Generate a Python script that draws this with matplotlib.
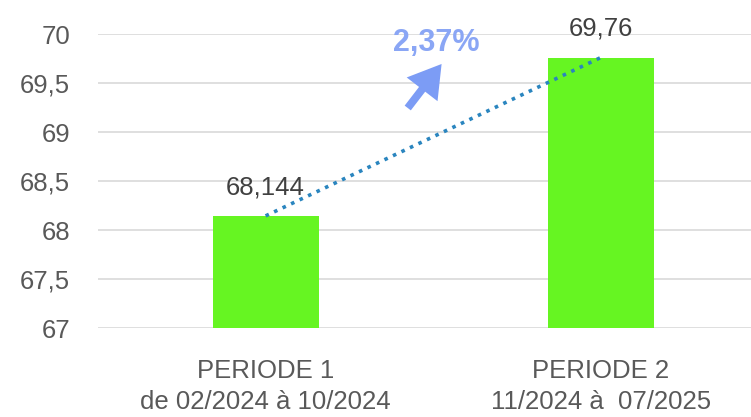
import matplotlib

matplotlib.use("Agg")
import matplotlib.pyplot as plt

categories = ["PERIODE 1\nde 02/2024 à 10/2024", "PERIODE 2\n11/2024 à  07/2025"]
values = [68.144, 69.76]
value_labels = ["68,144", "69,76"]
y_ticks = [67, 67.5, 68, 68.5, 69, 69.5, 70]
y_tick_labels = ["67", "67,5", "68", "68,5", "69", "69,5", "70"]
growth_label = "2,37%"

plt.rcParams["font.family"] = ["Liberation Sans", "DejaVu Sans"]
text_grey = "#595959"

fig = plt.figure(figsize=(7.51, 4.17), dpi=100)
ax = fig.add_axes([98 / 751, 1 - 328 / 417, 653 / 751, 294 / 417])

x = list(range(len(categories)))
ax.bar(x, values, width=0.316, color="#66F522", zorder=2)
ax.set_xlim(-0.5, 1.448)
ax.set_ylim(67, 70)

ax.set_yticks(y_ticks)
ax.set_yticklabels(y_tick_labels, fontsize=18.5, color=text_grey)
ax.set_xticks(x)
ax.set_xticklabels(categories, fontsize=18.5, color=text_grey, linespacing=1.4)
ax.tick_params(axis="both", length=0)
ax.tick_params(axis="y", pad=20)
ax.tick_params(axis="x", pad=22)
ax.grid(axis="y", color="#D9D9D9", linewidth=1.2, zorder=0)
for s in ax.spines.values():
    s.set_visible(False)

# trend line between bar tops
ax.plot(x, values, linestyle=(0, (1, 1.6)), color="#2A85BF", linewidth=2.6, zorder=3)

for xi, v, lab in zip(x, values, value_labels):
    ax.text(xi, v + 0.22, lab, ha="center", va="baseline", fontsize=18.5, color="#404040")

ax.annotate("", xy=(0.525, 69.694), xytext=(0.424, 69.245),
            arrowprops=dict(arrowstyle="simple,head_width=1.4,head_length=1.15,tail_width=0.28",
                            mutation_scale=20, color="#7C9CF5", lw=0, shrinkA=0, shrinkB=0))
ax.text(0.51, 69.91, growth_label, ha="center", va="center", fontsize=22, fontweight="bold",
        color="#8AA6F5")

fig.savefig("out.png", dpi=100)
